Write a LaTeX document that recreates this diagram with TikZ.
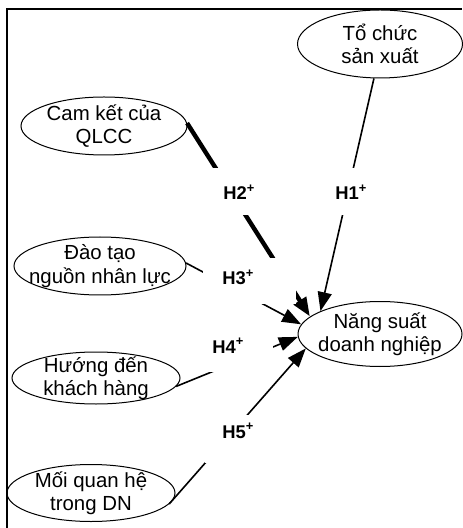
\documentclass[tikz,border=0pt]{standalone}
\usepackage{fontspec}
\setmainfont{Liberation Sans}
\usetikzlibrary{shapes.geometric,arrows.meta}
\tikzset{
  factor/.style={ellipse,draw,line width=0.5pt,inner xsep=-8pt,inner ysep=-4pt,
    align=center,font=\fontsize{10.2}{11.7}\selectfont},
  hyplabel/.style={fill=white,inner ysep=0pt,align=left,anchor=base west,
    font=\fontsize{9.2}{10}\selectfont\bfseries},
  effect/.style={draw,line width=0.8pt,-{Triangle[length=9.5pt,width=7pt]}},
  strong effect/.style={effect,line width=2.2pt}
}

\begin{document}
\begin{tikzpicture}[x=0.5pt,y=-0.5pt]
\useasboundingbox (0,0) rectangle (462,528);
%
\draw[line width=0.8pt] (7,528) -- (7,9) -- (462,9);
%
\node [factor,minimum width=82.5pt,minimum height=34pt] (tochuc)   at (380,44)  {Tổ chức\\sản xuất};
\node [factor,minimum width=83pt,minimum height=29pt]   (camket)   at (104,126) {Cam kết của\\QLCC};
\node [factor,minimum width=86pt,minimum height=29pt]   (daotao)   at (100,266) {Đào tạo\\nguồn nhân lực};
\node [factor,minimum width=84pt,minimum height=26pt]   (huongden) at (96,378)  {Hướng đến\\khách hàng};
\node [factor,minimum width=84pt,minimum height=28.5pt] (moiquan)  at (91,493)  {Mối quan hệ\\trong DN};
\node [factor,minimum width=82pt,minimum height=32.5pt] (nangsuat) at (380,334) {Năng suất\\doanh nghiệp};
%
\draw[effect]        (tochuc.260)  -- (nangsuat.159);
\draw[strong effect] (camket.2)    -- (nangsuat.166);
\draw[effect]        (daotao.2)    -- (nangsuat.173.6);
\draw[effect]        (huongden.354) -- (nangsuat.182);
\draw[effect]        (moiquan.352) -- (nangsuat.191);
%
\node [hyplabel,text width=16pt,inner xsep=2.5pt,text height=16pt,text depth=7.5pt]     (h1) at (330,200) {H1\textsuperscript{+}};
\node [hyplabel,text width=16pt,inner xsep=5.5pt,text height=16pt,text depth=7.5pt]     (h2) at (212,200) {H2\textsuperscript{+}};
\node [hyplabel,text width=27.5pt,inner xsep=9.5pt,text height=13.5pt,text depth=9.5pt] (h3) at (203,285) {H3\textsuperscript{+}};
\node [hyplabel,text width=27pt,inner xsep=3.5pt,text height=14pt,text depth=9.5pt]     (h4) at (205,353) {H4\textsuperscript{+}};
\node [hyplabel,text width=20pt,inner xsep=8.5pt,text height=11.5pt,text depth=12.5pt]  (h5) at (205,438) {H5\textsuperscript{+}};
\end{tikzpicture}
\end{document}
